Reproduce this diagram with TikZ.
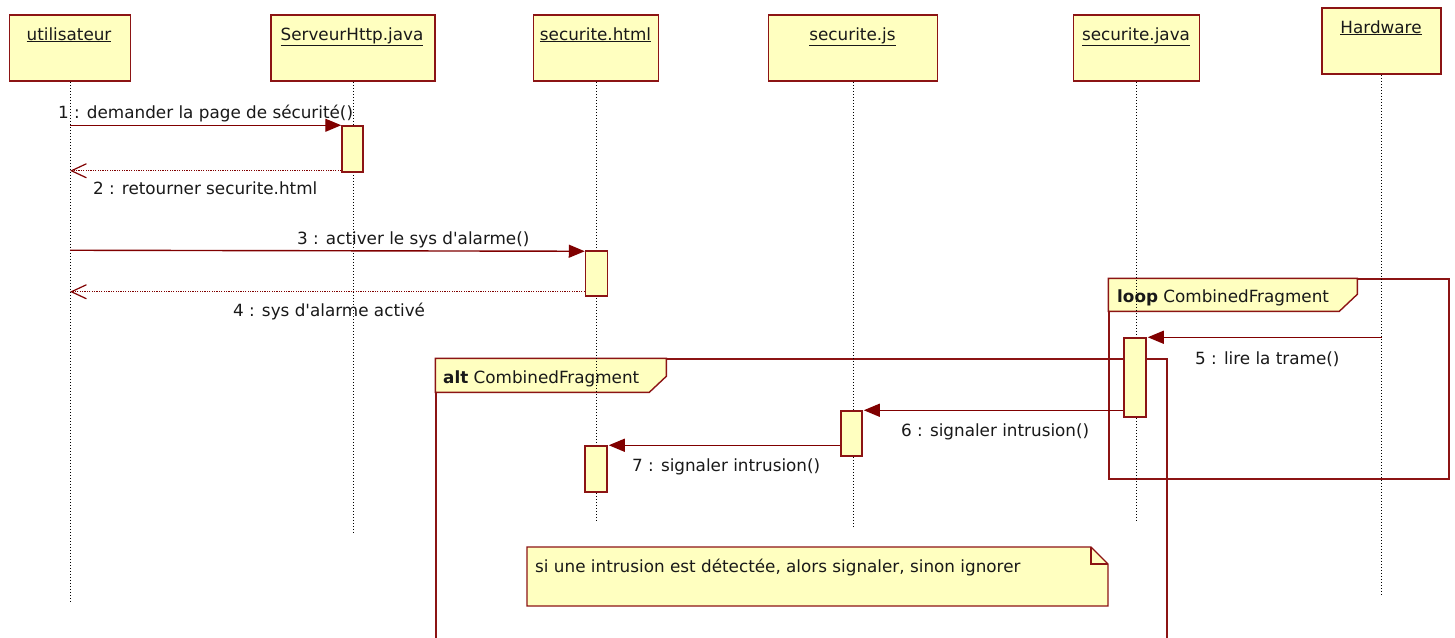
\documentclass[tikz,border=0pt]{standalone}
\usepackage{fontspec}
\setmainfont{DejaVu Sans}[Ligatures=TeXOff]
\usetikzlibrary{arrows.meta}
\definecolor{umlred}{RGB}{140,20,20}
\definecolor{msgred}{RGB}{128,0,0}
\definecolor{umlfill}{RGB}{255,255,192}
\definecolor{umltext}{RGB}{25,25,25}

\begin{document}
\begin{tikzpicture}[x=1pt,y=-1pt,
  font=\fontsize{16.8}{20}\selectfont, text=umltext,
  objbox/.style={draw=umlred, fill=umlfill, line width=1.6pt, inner sep=0pt},
  actbox/.style={draw=umlred, fill=umlfill, line width=1.5pt, inner sep=0pt, minimum width=22pt},
  lifeline/.style={draw=black, line width=1pt, dash pattern=on 1pt off 2pt},
  framebox/.style={draw=umlred, line width=1.4pt, inner sep=0pt},
  tabshape/.style={draw=umlred, fill=umlfill, line width=1.4pt},
  call/.style={draw=msgred, line width=1.4pt, -{Triangle[length=16pt,width=13pt]}},
  reply/.style={draw=msgred, line width=1.3pt, dash pattern=on 1.2pt off 1.2pt,
    -{Straight Barb[length=15pt,width=14pt,line width=1.2pt,sep=0pt]}},
  msglabel/.style={anchor=base west, inner sep=0pt},
  objlabel/.style={anchor=base, inner sep=0pt}
]
\useasboundingbox (0,0) rectangle (1455,637);
\clip (0,0) rectangle (1455,637);
\fill[white] (0,0) rectangle (1455,637);

% combined fragments
\node[framebox, minimum width=340pt, minimum height=200pt] (loop) at (1279,379) {};
\draw[tabshape] (loop.north west) -- ++(249,0) -- ++(0,16) -- ++(-18,17) -- ++(-231,0) -- cycle;
\node[msglabel] (looplbl) at (1117,302) {\textbf{loop} CombinedFragment};

\node[framebox, minimum width=731pt, minimum height=301pt] (alt) at (801.5,509.5) {};
\draw[tabshape] (alt.north west) -- ++(231,0) -- ++(0,18) -- ++(-17,16) -- ++(-214,0) -- cycle;
\node[msglabel] (altlbl) at (443,383) {\textbf{alt} CombinedFragment};

% objects
\node[objbox, minimum width=121pt, minimum height=66pt] (user) at (70,48) {};
\node[objbox, minimum width=164pt, minimum height=66pt] (http) at (353,48) {};
\node[objbox, minimum width=125pt, minimum height=66pt] (html) at (596,48) {};
\node[objbox, minimum width=169pt, minimum height=66pt] (js)   at (853,48) {};
\node[objbox, minimum width=126pt, minimum height=66pt] (java) at (1136.5,48) {};
\node[objbox, minimum width=119pt, minimum height=66pt] (hw)   at (1381.5,41) {};

\node[objlabel] (userlbl) at (69,40) {\underline{utilisateur}};
\node[objlabel] (httplbl) at (352,40) {\underline{ServeurHttp.java}};
\node[objlabel] (htmllbl) at (595.5,40) {\underline{securite.html}};
\node[objlabel] (jslbl)   at (852.5,40) {\underline{securite.js}};
\node[objlabel] (javalbl) at (1136,40) {\underline{securite.java}};
\node[objlabel] (hwlbl)   at (1381,33) {\underline{Hardware}};

% lifelines
\coordinate (userend) at (70,603);
\coordinate (httpend) at (353,533);
\coordinate (htmlend) at (596,520);
\coordinate (jsend)   at (853,527);
\coordinate (javaend) at (1136.5,520);
\coordinate (hwend)   at (1381.5,595);
\draw[lifeline] (user.south) -- (userend);
\draw[lifeline] (http.south) -- (httpend);
\draw[lifeline] (html.south) -- (htmlend);
\draw[lifeline] (js.south)   -- (jsend);
\draw[lifeline] (java.south) -- (javaend);
\draw[lifeline] (hw.south)   -- (hwend);

% activations
\node[actbox, minimum width=21pt, minimum height=46pt] (act1) at (352.5,149) {};
\node[actbox, minimum height=45pt] (act2) at (596.5,273.5) {};
\node[actbox, minimum height=79pt] (act3) at (1135,377.5) {};
\node[actbox, minimum width=21pt, minimum height=45pt] (act4) at (851.5,433.5) {};
\node[actbox, minimum height=46pt] (act5) at (596,469) {};

% messages
\draw[call]  (user |- act1.north west) -- (act1.north west);
\draw[reply] ([yshift=2pt]act1.south west) -- ([yshift=2pt]act1.south west -| user);
\draw[call]  (user |- act2.north west) -- ([yshift=-1pt]act2.north west);
\draw[reply] ([yshift=5pt]act2.south west) -- ([yshift=5pt]act2.south west -| user);
\draw[call]  (hw |- act3.north east) -- ([xshift=1pt]act3.north east);
\draw[call]  (act3.west |- act4.north east) -- ([xshift=1pt]act4.north east);
\draw[call]  (act4.west |- act5.north east) -- ([xshift=1pt]act5.north east);

\node[msglabel] (m1) at (58,118)   {1 : demander la page de sécurité()};
\node[msglabel] (m2) at (93,194)   {2 : retourner securite.html};
\node[msglabel] (m3) at (297,244)  {3 : activer le sys d'alarme()};
\node[msglabel] (m4) at (233,316)  {4 : sys d'alarme activé};
\node[msglabel] (m5) at (1195,364) {5 : lire la trame()};
\node[msglabel] (m6) at (901,436)  {6 : signaler intrusion()};
\node[msglabel] (m7) at (632,471)  {7 : signaler intrusion()};

% note
\draw[draw=umlred, fill=umlfill, line width=1.4pt]
  (527,547) -- (1091,547) -- (1108,564) -- (1108,606) -- (527,606) -- cycle;
\draw[draw=umlred, line width=1.4pt] (1091,547) -- (1091,564) -- (1108,564);
\node[msglabel] (note) at (535,572) {si une intrusion est détectée, alors signaler, sinon ignorer};
\end{tikzpicture}
\end{document}
